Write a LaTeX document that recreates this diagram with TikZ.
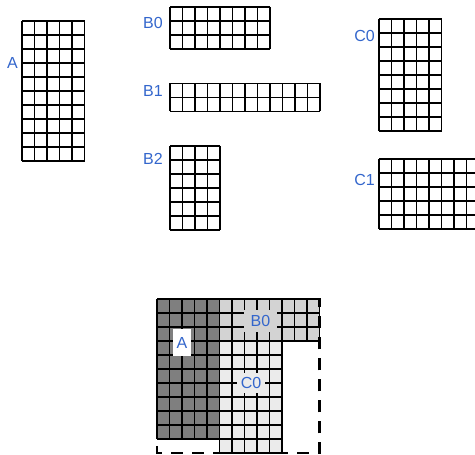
\documentclass[tikz,border=0pt]{standalone}
\usepackage{fontspec}
\setmainfont{Liberation Sans}
\usetikzlibrary{positioning}
\definecolor{cblue}{HTML}{3366CC}
\definecolor{cdark}{HTML}{7F7F7F}
\definecolor{cmid}{HTML}{D3D3D3}
\definecolor{clight}{HTML}{EBEBEB}
\tikzset{
  every picture/.style={x=1pt, y=1pt},
  cell/.style={draw=black, line width=1.8pt, line cap=square},
  tag/.style={font=\fontsize{16}{18}\selectfont, text=cblue, inner sep=1pt},
  tile/.style={tag, inner sep=0pt},
  tileborder/.style={draw=black, line width=2.8pt, dash pattern=on 12pt off 9pt},
}
% top-left corner, columns, rows, fill
\newcommand\cellblock[5]{%
  \fill[#5] (#1,#2) rectangle ++({#3*12.5},{-#4*14});
  \foreach \ci in {0,...,#3} \draw[cell] ({#1+\ci*12.5},#2) -- ++(0,{-#4*14});
  \foreach \ri in {0,...,#4} \draw[cell] (#1,{#2-\ri*14}) -- ++({#3*12.5},0);
}

\begin{document}
\begin{tikzpicture}
  \useasboundingbox (0,0) rectangle (475,455);
  \clip (0,0) rectangle (475,455);
  % the blocks
  \cellblock{22}{434}{5}{10}{white}
  \cellblock{170}{448}{8}{3}{white}
  \cellblock{170}{371.5}{12}{2}{white}
  \cellblock{170}{309}{4}{6}{white}
  \cellblock{379}{436}{5}{8}{white}
  \cellblock{379}{296}{8}{5}{white}
  \node[tag, anchor=east] (labA) at (19,392) {A};
  \node[tag, anchor=east] (labB0) at (164,432.5) {B0};
  \node[tag, anchor=east] (labB1) at (164,364) {B1};
  \node[tag, anchor=east] (labB2) at (164,296) {B2};
  \node[tag, anchor=east] (labC0) at (376,419) {C0};
  \node[tag, anchor=east] (labC1) at (376,275) {C1};
  % packed layout
  \cellblock{157}{156}{5}{10}{cdark}
  \cellblock{219.5}{156}{8}{3}{cmid}
  \cellblock{219.5}{114}{5}{8}{clight}
  \node[tile, fill=white, minimum width=18pt, minimum height=27pt] (accA) at (182,112) {A};
  \node[tile, fill=cmid, minimum width=33pt, minimum height=22pt] (accB0) at (260.5,134) {B0};
  \node[tile, fill=clight, minimum width=28pt, minimum height=20pt] (accC0) at (251,72) {C0};
  \draw[tileborder] (157,156) rectangle (319.5,2);
\end{tikzpicture}
\end{document}
